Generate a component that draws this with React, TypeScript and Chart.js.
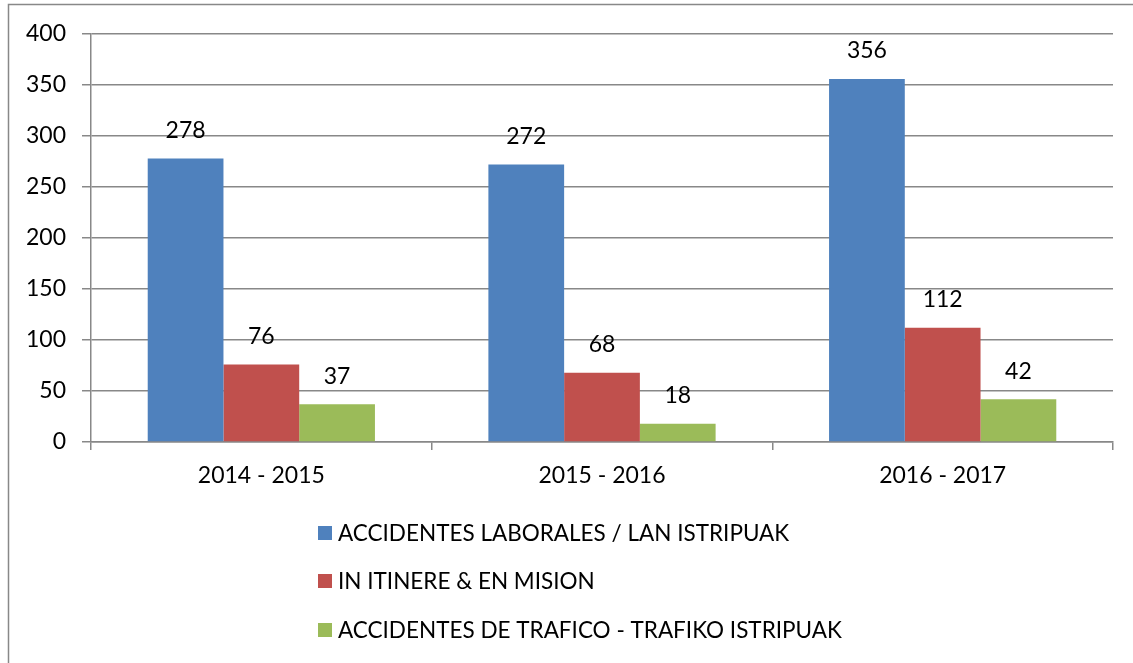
import React, { useEffect, useRef } from "react";
import { Chart, registerables } from "chart.js";

Chart.register(...registerables);

const categories = ["2014 - 2015", "2015 - 2016", "2016 - 2017"];
const seriesNames = [
  "ACCIDENTES LABORALES / LAN ISTRIPUAK",
  "IN ITINERE & EN MISION",
  "ACCIDENTES DE TRAFICO - TRAFIKO ISTRIPUAK",
];
const laborales = [278, 272, 356];
const itinere = [76, 68, 112];
const trafico = [37, 18, 42];
const colors = ["#4F81BD", "#C0504D", "#9BBB59"];

const FONT = "Lato, 'Open Sans', sans-serif";
const FONT_SIZE = 23;
const GRID = "#888888";

const borderPlugin = {
  id: "outerBorder",
  beforeDraw(chart: any) {
    const ctx = chart.ctx;
    ctx.save();
    ctx.fillStyle = "#ffffff";
    ctx.fillRect(0, 0, chart.width, chart.height);
    ctx.strokeStyle = GRID;
    ctx.lineWidth = 1.5;
    ctx.strokeRect(8.5, 4.5, 1130, 700);
    ctx.restore();
  },
};

const labelPlugin = {
  id: "valueLabels",
  afterDatasetsDraw(chart: any) {
    const ctx = chart.ctx;
    ctx.save();
    ctx.font = `${FONT_SIZE}px ${FONT}`;
    ctx.fillStyle = "#000000";
    ctx.textAlign = "center";
    ctx.textBaseline = "middle";
    chart.data.datasets.forEach((ds: any, i: number) => {
      const meta = chart.getDatasetMeta(i);
      meta.data.forEach((bar: any, j: number) => {
        ctx.fillText(String(ds.data[j]), bar.x, bar.y - 28);
      });
    });
    ctx.restore();
  },
};

const legendPlugin = {
  id: "vertLegend",
  afterDraw(chart: any) {
    const ctx = chart.ctx;
    ctx.save();
    ctx.font = `22.5px ${FONT}`;
    ctx.textBaseline = "middle";
    ctx.textAlign = "left";
    const rows = [533, 581, 630];
    chart.data.datasets.forEach((ds: any, i: number) => {
      const y = rows[i];
      ctx.fillStyle = ds.backgroundColor;
      ctx.fillRect(318, y - 7, 14, 14);
      ctx.fillStyle = "#000000";
      ctx.fillText(ds.label, 338, y + 1);
    });
    ctx.restore();
  },
};

export default function App() {
  const ref = useRef<HTMLCanvasElement | null>(null);
  useEffect(() => {
    if (!ref.current) return;
    const chart = new Chart(ref.current, {
      type: "bar",
      data: {
        labels: categories,
        datasets: [
          { label: seriesNames[0], data: laborales, backgroundColor: colors[0] },
          { label: seriesNames[1], data: itinere, backgroundColor: colors[1] },
          { label: seriesNames[2], data: trafico, backgroundColor: colors[2] },
        ].map((d) => ({ ...d, borderWidth: 0, categoryPercentage: 0.667, barPercentage: 1 })),
      },
      options: {
        responsive: false,
        animation: false,
        layout: { padding: { top: 34, right: 20, left: 0, bottom: 0 } },
        plugins: {
          legend: { display: false },
          tooltip: { enabled: false },
        },
        scales: {
          x: {
            afterFit: (s: any) => {
              s.height = 221;
            },
            grid: {
              drawOnChartArea: false,
              drawTicks: true,
              tickLength: 8,
              color: GRID,
              lineWidth: 1.5,
              offset: true,
            },
            border: { display: true, color: GRID, width: 1.5 },
            ticks: {
              color: "#000000",
              font: { family: FONT, size: FONT_SIZE },
              padding: 12,
            },
          },
          y: {
            min: 0,
            max: 400,
            afterFit: (s: any) => {
              s.width = 91;
            },
            grid: {
              color: GRID,
              lineWidth: 1.5,
              tickLength: 9,
            },
            border: { display: true, color: GRID, width: 1.5 },
            ticks: {
              stepSize: 50,
              color: "#000000",
              font: { family: FONT, size: FONT_SIZE },
              padding: 16,
            },
          },
        },
      },
      plugins: [borderPlugin, labelPlugin, legendPlugin],
    });
    return () => chart.destroy();
  }, []);
  return (
    <div style={{ position: "absolute", left: 0, top: 0, width: 1133, height: 663 }}>
      <canvas ref={ref} width={1133} height={663} style={{ display: "block" }} />
    </div>
  );
}
